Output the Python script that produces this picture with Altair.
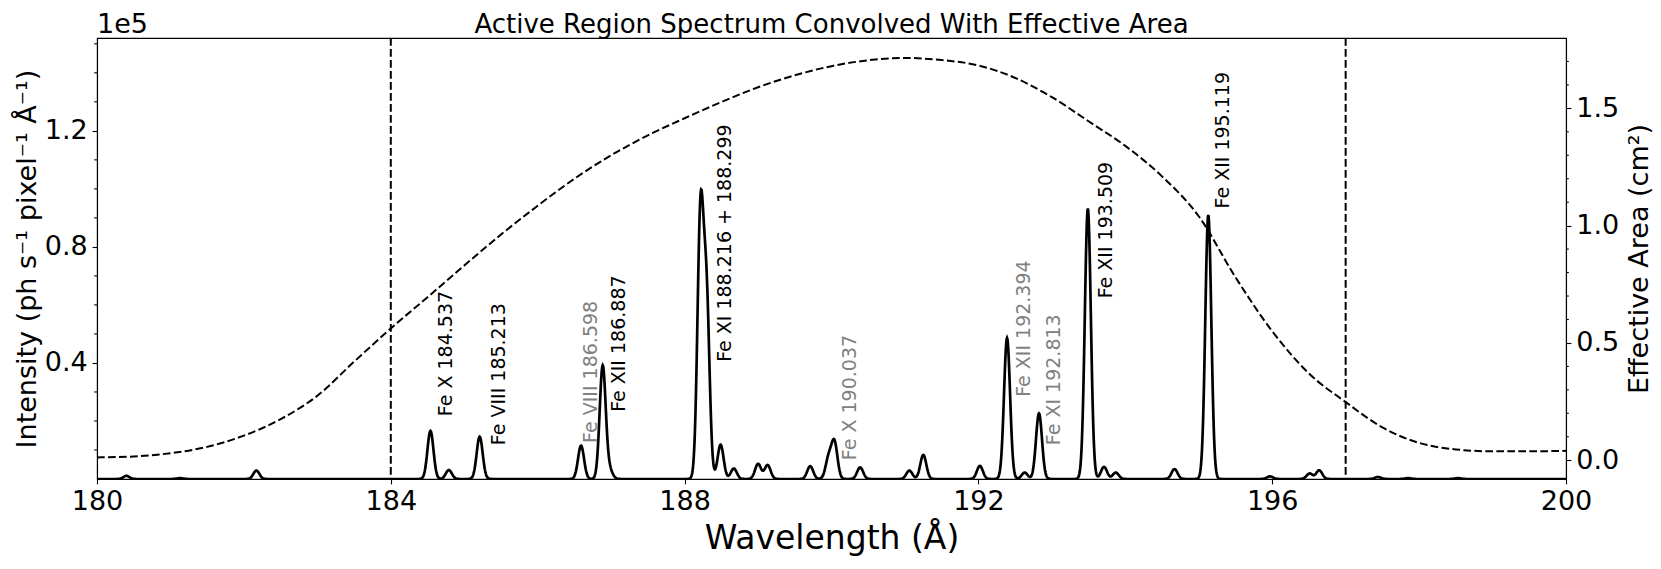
import altair as alt
import numpy as np
import pandas as pd

# ---------------- values ----------------
X_TICKS = [180, 184, 188, 192, 196, 200]
LEFT_TICKS = [40000, 80000, 120000]
LEFT_MINOR = [10000, 20000, 30000, 50000, 60000, 70000, 90000, 100000,
              110000, 130000, 140000, 150000]
RIGHT_TICKS = [0.0, 0.5, 1.0, 1.5]
RIGHT_MINOR = [0.1, 0.2, 0.3, 0.4, 0.6, 0.7, 0.8, 0.9, 1.1, 1.2, 1.3, 1.4, 1.6, 1.7]
BAND_EDGES = [184.0, 197.0]

# emission lines: wavelength (Å) and peak intensity (ph s-1 pixel-1 Å-1)
LINE_WAVELENGTHS = [180.40, 181.13, 182.17, 184.54, 184.79, 185.21, 186.59, 186.885, 186.98,
                    188.216, 188.299, 188.49, 188.67, 189.00, 189.13, 189.71, 189.96, 190.04,
                    190.39, 191.06, 191.25, 192.02, 192.39, 192.63, 192.825, 193.49, 193.71,
                    193.87, 194.67, 195.13, 195.97, 196.51, 196.64, 197.44, 197.85, 198.53]
LINE_PEAKS = [1100, 300, 2900, 16600, 3100, 14600, 11500, 39000, 3000,
              90000, 60700, 11800, 3600, 5200, 4800, 4400, 7000, 12500,
              4000, 2900, 8300, 4500, 48600, 2200, 22600, 93200, 4200,
              2200, 3400, 91000, 900, 1900, 3000, 700, 300, 300]
LINE_SIGMA = 0.041  # instrumental line width (Å)

# effective area curve (cm^2)
AREA_WAVELENGTHS = [180.0, 180.5, 181.0, 181.5, 182.0, 182.5, 183.0, 183.5, 184.0, 184.5,
                    185.0, 185.5, 186.0, 186.5, 187.0, 187.5, 188.0, 188.5, 189.0, 189.5,
                    190.0, 190.5, 191.0, 191.5, 192.0, 192.5, 193.0, 193.5, 194.0, 194.5,
                    195.0, 195.5, 196.0, 196.5, 197.0, 197.5, 198.0, 198.5, 199.0, 199.5, 200.0]
AREA_VALUES = [0.012, 0.016, 0.030, 0.057, 0.105, 0.175, 0.275, 0.420, 0.562, 0.695,
               0.830, 0.962, 1.085, 1.200, 1.300, 1.385, 1.458, 1.527, 1.590, 1.641,
               1.680, 1.705, 1.715, 1.706, 1.683, 1.630, 1.548, 1.445, 1.340, 1.210,
               1.040, 0.780, 0.550, 0.370, 0.248, 0.140, 0.074, 0.046, 0.038, 0.038, 0.040]

LABEL_TEXT = ["Fe X 184.537", "Fe VIII 185.213", "Fe VIII 186.598", "Fe XII 186.887",
              "Fe XI 188.216 + 188.299", "Fe X 190.037", "Fe XII 192.394", "Fe XI 192.813",
              "Fe XII 193.509", "Fe XII 195.119"]
LABEL_WAVELENGTH = [184.631, 185.348, 186.601, 186.989, 188.422, 190.123, 192.505, 192.904,
                    193.612, 195.211]
LABEL_INTENSITY = [21660, 11660, 12450, 23140, 40380, 6490, 28320, 11660, 62280, 93250]
LABEL_COLOR = ["black", "black", "gray", "black", "black", "gray", "gray", "gray",
               "black", "black"]

TITLE = ["Active Region Spectrum Convolved With Effective Area"]
X_TITLE = "Wavelength (Å)"
LEFT_TITLE = "Intensity (ph  s⁻¹ pixel⁻¹ Å⁻¹)"
RIGHT_TITLE = "Effective Area (cm²)"
OFFSET_TEXT = ["1e5"]

# ---------------- tables ----------------
wl = np.round(np.arange(180.0, 200.0001, 0.005), 3)
flux = np.zeros_like(wl)
for c, a in zip(LINE_WAVELENGTHS, LINE_PEAKS):
    flux += a * np.exp(-0.5 * ((wl - c) / LINE_SIGMA) ** 2)
spec_df = pd.DataFrame({"wl": wl, "flux": flux})
area_df = pd.DataFrame({"wl": AREA_WAVELENGTHS, "area": AREA_VALUES})
label_df = pd.DataFrame({"x": LABEL_WAVELENGTH, "y": LABEL_INTENSITY,
                         "label": LABEL_TEXT, "color": LABEL_COLOR})

W, H = 1469, 441
FONT = "DejaVu Sans"

x_scale = alt.Scale(domain=[180, 200], nice=False, zero=False)
yl_scale = alt.Scale(domain=[0, 152000], nice=False, zero=False)
yr_scale = alt.Scale(domain=[-0.08, 1.80], nice=False, zero=False)

x_axis = alt.Axis(values=X_TICKS, format="d", title=X_TITLE, labelFontSize=27,
                  tickSize=4.9, labelPadding=4.9, labelFlush=False, labelOverlap=False,
                  titleFontSize=33, titleX=W / 2, titleY=69, titleAlign="center",
                  titleBaseline="alphabetic", titleAngle=0, grid=False)
left_axis = alt.Axis(values=LEFT_TICKS, labelExpr="format(datum.value / 100000, '.1f')",
                     title=LEFT_TITLE, labelFontSize=27, tickSize=4.9, labelPadding=4.9,
                     labelFlush=False, labelOverlap=False, titleFontSize=27,
                     titleX=-62, titleY=H / 2, titleAngle=270, titleAlign="center",
                     titleBaseline="alphabetic", grid=False)
right_axis = alt.Axis(orient="right", values=RIGHT_TICKS, format=".1f", title=RIGHT_TITLE,
                      labelFontSize=27, tickSize=4.9, labelPadding=4.9, labelFlush=False,
                      labelOverlap=False, titleFontSize=27, titleX=81, titleY=H / 2,
                      titleAngle=270, titleAlign="center", titleBaseline="alphabetic",
                      grid=False)

spectrum = alt.Chart(spec_df).mark_line(color="black", strokeWidth=2.7, clip=True).encode(
    x=alt.X("wl:Q", scale=x_scale, axis=x_axis),
    y=alt.Y("flux:Q", scale=yl_scale, axis=left_axis),
)

edges = alt.Chart(pd.DataFrame({"x": BAND_EDGES})).mark_rule(
    color="black", strokeWidth=2, strokeDash=[7.7, 3.3]).encode(
    x=alt.X("x:Q", scale=x_scale))

labels = alt.Chart(label_df).mark_text(angle=270, align="left", baseline="top",
                                        fontSize=19, font=FONT).encode(
    x=alt.X("x:Q", scale=x_scale),
    y=alt.Y("y:Q", scale=yl_scale),
    text="label:N",
    color=alt.Color("color:N", scale=None),
)

left_minor = alt.Chart(pd.DataFrame({"v": LEFT_MINOR})).mark_rule(
    color="black", strokeWidth=1.1).encode(
    y=alt.Y("v:Q", scale=yl_scale), x=alt.value(0), x2=alt.value(-2.8))

offset_text = alt.Chart(pd.DataFrame({"t": OFFSET_TEXT})).mark_text(
    align="left", baseline="alphabetic", fontSize=27, font=FONT, color="black").encode(
    text="t:N", x=alt.value(0), y=alt.value(-5.3))

title_text = alt.Chart(pd.DataFrame({"t": TITLE})).mark_text(
    align="center", baseline="alphabetic", fontSize=26, font=FONT, color="black").encode(
    text="t:N", x=alt.value(W / 2), y=alt.value(-5.5))

area = alt.Chart(area_df).mark_line(color="black", strokeWidth=2, strokeDash=[7.7, 3.3],
                                    interpolate="monotone").encode(
    x=alt.X("wl:Q", scale=x_scale),
    y=alt.Y("area:Q", scale=yr_scale, axis=right_axis),
)

right_minor = alt.Chart(pd.DataFrame({"v": RIGHT_MINOR})).mark_rule(
    color="black", strokeWidth=1.1).encode(
    y=alt.Y("v:Q", scale=yr_scale), x=alt.value(W), x2=alt.value(W + 2.8))

left_layer = alt.layer(spectrum, edges, labels, left_minor, offset_text, title_text)
right_layer = alt.layer(area, right_minor)

chart = alt.layer(left_layer, right_layer).resolve_scale(y="independent").properties(
    width=W, height=H,
    autosize=alt.AutoSizeParams(type="none"),
    padding={"left": 89, "top": 30, "right": 87, "bottom": 77},
).configure(font=FONT).configure_view(stroke="black", strokeWidth=1.1).configure_axis(
    grid=False, domainColor="black", domainWidth=1.1, tickColor="black", tickWidth=1.1,
    labelColor="black", titleColor="black", labelFont=FONT, titleFont=FONT,
    titleFontWeight="normal", labelFontWeight="normal")

chart.save("out.html", embed_options={"renderer": "svg", "actions": False})
